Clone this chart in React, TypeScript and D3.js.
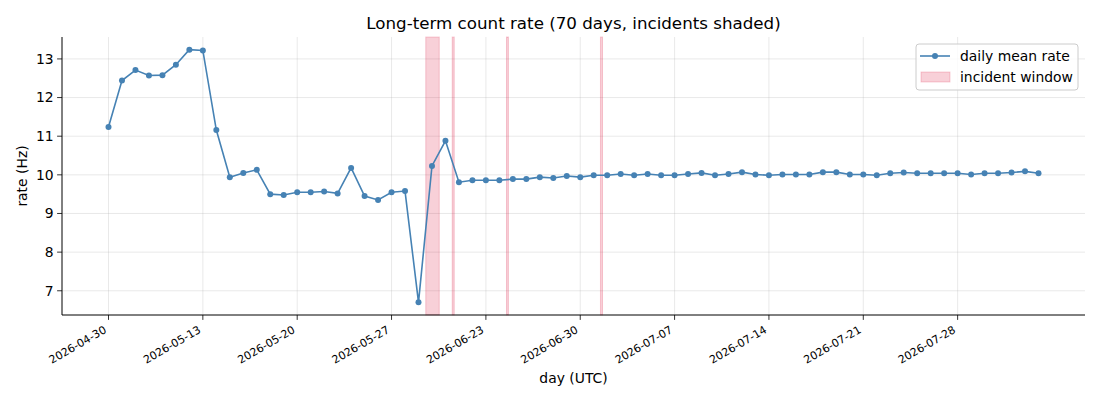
import * as d3 from "d3";

// daily mean count rate (Hz), one value per day
const RATE = [
  11.24, 12.44, 12.71, 12.57, 12.58, 12.85, 13.24, 13.22, 11.16, 9.94,
  10.05, 10.13, 9.5, 9.48, 9.55, 9.55, 9.57, 9.52, 10.18, 9.45,
  9.35, 9.55, 9.58, 6.7, 10.23, 10.88, 9.81, 9.86, 9.86, 9.86,
  9.89, 9.89, 9.94, 9.92, 9.97, 9.94, 9.99, 9.99, 10.02, 9.99,
  10.02, 9.99, 9.99, 10.02, 10.05, 9.99, 10.02, 10.07, 10.01, 9.99,
  10.01, 10.01, 10.01, 10.07, 10.07, 10.01, 10.01, 9.99, 10.04, 10.06,
  10.04, 10.04, 10.04, 10.04, 10.01, 10.04, 10.04, 10.06, 10.09, 10.04,
];

// incident windows, in fractional day index
const INCIDENT_START = [23.54, 25.5, 29.53, 36.5];
const INCIDENT_END = [24.54, 25.65, 29.67, 36.65];

const TICK_DAYS = [0, 7, 14, 21, 28, 35, 42, 49, 56, 63];
const TICK_LABELS = [
  "2026-04-30", "2026-05-13", "2026-05-20", "2026-05-27", "2026-06-23",
  "2026-06-30", "2026-07-07", "2026-07-14", "2026-07-21", "2026-07-28",
];
const Y_TICKS = [7, 8, 9, 10, 11, 12, 13];

const W = 1100, H = 400;
const M = { top: 37, right: 15, bottom: 85, left: 62 };
const FONT = "DejaVu Sans, sans-serif";
const BLUE = "#4682b4";

export default function App() {
  const n = RATE.length;
  const xPad = (n - 1) * 0.05;
  const x = d3.scaleLinear().domain([-xPad, n - 1 + xPad]).range([M.left, W - M.right]);
  const [lo, hi] = d3.extent(RATE) as [number, number];
  const yPad = (hi - lo) * 0.05;
  const y = d3.scaleLinear().domain([lo - yPad, hi + yPad]).range([H - M.bottom, M.top]);

  const line = d3.line<number>().x((_, i) => x(i)).y((d) => y(d));
  const spans = INCIDENT_START.map((s, i) => ({ s, e: INCIDENT_END[i] }));
  const bottom = H - M.bottom;

  return (
    <div style={{ position: "fixed", left: 0, top: 0 }}>
      <svg width={W} height={H} style={{ display: "block", background: "#fff" }} fontFamily={FONT}>
        {/* grid */}
        <g stroke="#b0b0b0" strokeOpacity={0.35} strokeWidth={0.8}>
          {TICK_DAYS.map((d) => (
            <line key={"gx" + d} x1={x(d)} x2={x(d)} y1={M.top} y2={bottom} />
          ))}
          {Y_TICKS.map((v) => (
            <line key={"gy" + v} x1={M.left} x2={W - M.right} y1={y(v)} y2={y(v)} />
          ))}
        </g>

        {/* incident windows */}
        {spans.map((sp, i) => (
          <rect key={i} x={x(sp.s)} width={x(sp.e) - x(sp.s)} y={M.top} height={bottom - M.top}
            fill="crimson" fillOpacity={0.2} stroke="crimson" strokeOpacity={0.2} strokeWidth={1} />
        ))}

        {/* series */}
        <path d={line(RATE) ?? ""} fill="none" stroke={BLUE} strokeWidth={1.6} />
        {RATE.map((v, i) => (
          <circle key={i} cx={x(i)} cy={y(v)} r={3} fill={BLUE} />
        ))}

        {/* axes */}
        <line x1={M.left} x2={M.left} y1={M.top} y2={bottom} stroke="#000" strokeWidth={1} />
        <line x1={M.left} x2={W - M.right} y1={bottom} y2={bottom} stroke="#000" strokeWidth={1} />
        {Y_TICKS.map((v) => (
          <g key={"yt" + v}>
            <line x1={M.left - 4.9} x2={M.left} y1={y(v)} y2={y(v)} stroke="#000" strokeWidth={0.8} />
            <text x={M.left - 8.4} y={y(v)} dy="0.35em" textAnchor="end" fontSize={13.9} fill="#000">{v}</text>
          </g>
        ))}
        {TICK_DAYS.map((d, i) => (
          <g key={"xt" + d}>
            <line x1={x(d)} x2={x(d)} y1={bottom} y2={bottom + 4.9} stroke="#000" strokeWidth={0.8} />
            <text transform={`translate(${x(d) - 1.3},${bottom + 17}) rotate(-30)`} textAnchor="end"
              fontSize={11} fill="#000">{TICK_LABELS[i]}</text>
          </g>
        ))}

        {/* labels */}
        <text x={(M.left + W - M.right) / 2} y={29} textAnchor="middle" fontSize={16.7} fill="#000">
          Long-term count rate (70 days, incidents shaded)
        </text>
        <text x={(M.left + W - M.right) / 2} y={383} textAnchor="middle" fontSize={13.9} fill="#000">day (UTC)</text>
        <text transform={`translate(27,${(M.top + bottom) / 2}) rotate(-90)`} textAnchor="middle" fontSize={13.9} fill="#000">
          rate (Hz)
        </text>

        {/* legend */}
        <g>
          <rect x={916} y={44} width={162} height={46} rx={3} fill="#fff" fillOpacity={0.8} stroke="#cccccc" strokeWidth={1} />
          <line x1={920} x2={950} y1={56} y2={56} stroke={BLUE} strokeWidth={1.6} />
          <circle cx={935} cy={56} r={3} fill={BLUE} />
          <text x={960} y={56} dy="0.35em" fontSize={13.9} fill="#000">daily mean rate</text>
          <rect x={921} y={72} width={29} height={10} fill="crimson" fillOpacity={0.2} stroke="crimson" strokeOpacity={0.2} />
          <text x={960} y={77} dy="0.35em" fontSize={13.9} fill="#000">incident window</text>
        </g>
      </svg>
    </div>
  );
}
